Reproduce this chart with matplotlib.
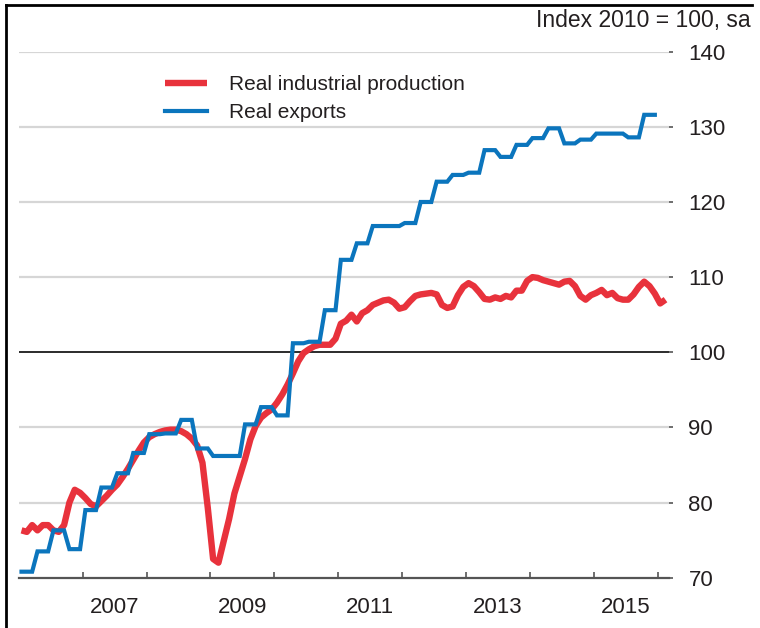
import numpy as np
import matplotlib
matplotlib.use("Agg")
import matplotlib.pyplot as plt
from matplotlib.lines import Line2D

plt.rcParams['font.family'] = ['Liberation Sans', 'DejaVu Sans']

# ---- data ----
start_year = 2006
# Real industrial production, monthly from Jan 2006 to Feb 2016 (index 2010 = 100)
industrial_production = [
    76.3, 76.1, 77.0, 76.3, 77.0, 77.0, 76.3, 76.1, 77.0, 80.0, 81.7, 81.3,   # 2006
    80.6, 79.8, 79.5, 80.2, 80.9, 81.7, 82.4, 83.4, 84.5, 85.7, 86.9, 88.0,   # 2007
    88.7, 89.1, 89.4, 89.6, 89.7, 89.7, 89.5, 89.1, 88.5, 87.6, 85.3, 79.3,   # 2008
    72.5, 72.0, 74.9, 77.8, 81.2, 83.5, 85.8, 88.4, 90.2, 91.3, 91.9, 92.4,   # 2009
    93.3, 94.4, 95.7, 97.2, 98.8, 99.9, 100.4, 100.8, 101.0, 101.0, 101.0, 101.8,  # 2010
    103.8, 104.2, 105.0, 104.1, 105.2, 105.6, 106.3, 106.6, 106.9, 107.0, 106.6, 105.8,  # 2011
    106.0, 106.8, 107.5, 107.7, 107.8, 107.9, 107.7, 106.3, 105.9, 106.1, 107.6, 108.7,  # 2012
    109.2, 108.8, 108.0, 107.1, 107.0, 107.3, 107.1, 107.5, 107.3, 108.2, 108.2, 109.5,  # 2013
    110.0, 109.9, 109.6, 109.4, 109.2, 109.0, 109.4, 109.5, 108.8, 107.5, 107.0, 107.6,  # 2014
    107.9, 108.3, 107.6, 107.9, 107.2, 107.0, 107.0, 107.7, 108.7, 109.4, 108.8, 107.8,  # 2015
    106.5, 107.0,                                                              # 2016
]
# Real exports, quarterly 2006Q1 - 2015Q4 (shown monthly, held within each quarter)
real_exports_q = [
    70.8, 73.5, 76.3, 73.8,      # 2006
    79.0, 82.0, 83.9, 86.6,      # 2007
    89.1, 89.2, 91.0, 87.2,      # 2008
    86.2, 86.2, 90.4, 92.7,      # 2009
    91.6, 101.2, 101.4, 105.6,   # 2010
    112.3, 114.5, 116.8, 116.8,  # 2011
    117.2, 120.0, 122.7, 123.6,  # 2012
    123.9, 126.9, 126.0, 127.6,  # 2013
    128.5, 129.8, 127.8, 128.3,  # 2014
    129.1, 129.1, 128.6, 131.6,  # 2015
]
series_labels = ["Real industrial production", "Real exports"]
x_label_years = [2007, 2009, 2011, 2013, 2015]
x_tick_years = list(range(2007, 2017))
y_ticks = [70, 80, 90, 100, 110, 120, 130, 140]
unit_label = "Index 2010 = 100, sa"

# ---- derived time axes ----
t_ip = start_year + (np.arange(len(industrial_production)) + 0.5) / 12.0
exports_m = np.repeat(real_exports_q, 3)
t_ex = start_year + (np.arange(len(exports_m)) + 0.5) / 12.0

RED = "#e8323c"
BLUE = "#0b75bd"

fig = plt.figure(figsize=(7.6, 6.28), dpi=100)
ax = fig.add_axes([18.85 / 760, (628 - 577.7) / 628, (669 - 18.85) / 760, (577.7 - 51.7) / 628])

ax.set_xlim(2006, 2016.18)
ax.set_ylim(70, 140)

# grid lines
for v in y_ticks[1:]:
    if v == 100:
        ax.axhline(v, color="#2b2b2b", lw=1.4, zorder=1)
    else:
        ax.axhline(v, color="#d6d6d6", lw=1.6, zorder=0)

ax.plot(t_ip, industrial_production, color=RED, lw=4.6, solid_joinstyle="round",
        solid_capstyle="butt", label=series_labels[0], zorder=3)
ax.plot(t_ex, exports_m, color=BLUE, lw=3.0, solid_joinstyle="miter",
        label=series_labels[1], zorder=4)

# spines
for s in ["top", "right", "left"]:
    ax.spines[s].set_visible(False)
ax.spines["bottom"].set_color("#555555")
ax.spines["bottom"].set_linewidth(1.6)

# x ticks: marks at year boundaries, labels mid-year
ax.set_xticks(x_tick_years)
ax.set_xticklabels([])
ax.tick_params(axis="x", which="major", direction="in", length=4, width=1.2, color="#555555")
ax.set_xticks([y + 0.5 for y in x_label_years], minor=True)
ax.set_xticklabels([str(y) for y in x_label_years], minor=True)
ax.tick_params(axis="x", which="minor", length=0, pad=14, labelsize=16, labelcolor="#231f20")

# y ticks on right
ax.yaxis.tick_right()
ax.set_yticks(y_ticks)
ax.set_yticklabels([str(v) for v in y_ticks])
ax.tick_params(axis="y", direction="out", length=3, width=1.2, color="#555555",
               pad=11, labelsize=16, labelcolor="#231f20")

leg = ax.legend(loc="upper left", bbox_to_anchor=((165 - 18.85) / 650, (577.7 - 75) / 526),
                frameon=False, fontsize=15, handlelength=2.0, handletextpad=1.05,
                labelspacing=0.45, borderpad=0, borderaxespad=0)
for t in leg.get_texts():
    t.set_color("#231f20")

fig.text(751 / 760, 1 - 20 / 628, unit_label, ha="right", va="center", fontsize=16.5, color="#231f20")

# screenshot frame lines
fig.add_artist(Line2D([6 / 760, 6 / 760], [0, 1 - 5 / 628], color="black", lw=2))
fig.add_artist(Line2D([6 / 760, 752 / 760], [1 - 5 / 628, 1 - 5 / 628], color="black", lw=2))

fig.savefig("out.png", dpi=100)
